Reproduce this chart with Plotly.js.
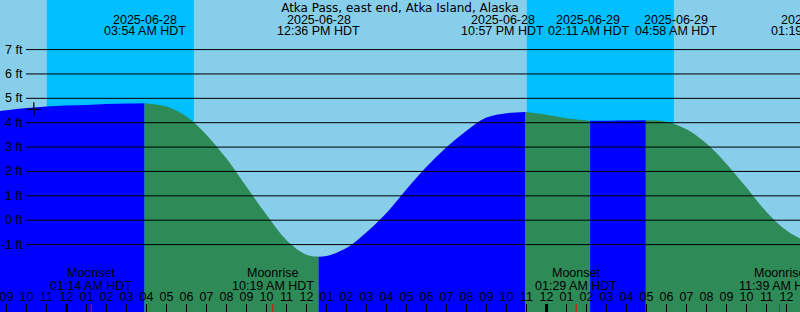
<!DOCTYPE html>
<html><head><meta charset="utf-8">
<script src="https://cdn.plot.ly/plotly-3.0.1.min.js"></script>
<style>html,body{margin:0;padding:0;background:#87ceeb;overflow:hidden}#chart{width:800px;height:312px}</style>
</head><body><div id="chart"></div>
<script>
// ---------- data ----------
const stationName = 'Atka Pass, east end, Atka Island, Alaska';

// hourly tide heights (ft)
const tideTimes = [
  '2025-06-27 20:00','2025-06-27 21:00','2025-06-27 22:00','2025-06-27 23:00',
  '2025-06-28 00:00','2025-06-28 01:00','2025-06-28 02:00','2025-06-28 03:00','2025-06-28 04:00','2025-06-28 05:00',
  '2025-06-28 06:00','2025-06-28 07:00','2025-06-28 08:00','2025-06-28 09:00','2025-06-28 10:00','2025-06-28 11:00',
  '2025-06-28 12:00','2025-06-28 13:00','2025-06-28 14:00','2025-06-28 15:00','2025-06-28 16:00','2025-06-28 17:00',
  '2025-06-28 18:00','2025-06-28 19:00','2025-06-28 20:00','2025-06-28 21:00','2025-06-28 22:00','2025-06-28 23:00',
  '2025-06-29 00:00','2025-06-29 01:00','2025-06-29 02:00','2025-06-29 03:00','2025-06-29 04:00','2025-06-29 05:00',
  '2025-06-29 06:00','2025-06-29 07:00','2025-06-29 08:00','2025-06-29 09:00','2025-06-29 10:00','2025-06-29 11:00',
  '2025-06-29 12:00','2025-06-29 13:00'
];
const tideFeet = [
  4.40, 4.51, 4.60, 4.66,
  4.71, 4.73, 4.77, 4.79, 4.80, 4.66,
  4.25, 3.50, 2.53, 1.37, 0.22, -0.82,
  -1.42, -1.47, -1.14, -0.49, 0.30, 1.27,
  2.19, 2.99, 3.67, 4.21, 4.39, 4.44,
  4.33, 4.18, 4.09, 4.085, 4.095, 4.10,
  4.04, 3.73, 3.15, 2.31, 1.34, 0.34,
  -0.42, -0.88
];

// high / low tide events
const extremeTimes = ['2025-06-28 03:54','2025-06-28 12:36','2025-06-28 22:57','2025-06-29 02:11','2025-06-29 04:58','2025-06-29 13:19'];
const extremeFeet  = [4.80, -1.50, 4.44, 4.08, 4.10, -0.97];
const extremeKind  = ['High','Low','High','Low','High','Low'];
const extremeDateLabels = ['2025-06-28','2025-06-28','2025-06-28','2025-06-29','2025-06-29','2025-06-29'];
const extremeTimeLabels = ['03:54 AM HDT','12:36 PM HDT','10:57 PM HDT','02:11 AM HDT','04:58 AM HDT','01:19 PM HDT'];

// moon events
const moonTimes  = ['2025-06-28 01:14','2025-06-28 10:19','2025-06-29 01:29','2025-06-29 11:39'];
const moonKinds  = ['Moonset','Moonrise','Moonset','Moonrise'];
const moonLabels = ['01:14 AM HDT','10:19 AM HDT','01:29 AM HDT','11:39 AM HDT'];

// night (sunset -> sunrise)
const nightStarts = ['2025-06-27 23:01','2025-06-28 23:01'];
const nightEnds   = ['2025-06-28 06:22','2025-06-29 06:22'];

// day boundaries
const midnights = ['2025-06-28 00:00','2025-06-29 00:00'];

// y axis ticks
const yTickValues = [-1, 0, 1, 2, 3, 4, 5, 6, 7];
const yTickLabels = ['-1 ft','0 ft','1 ft','2 ft','3 ft','4 ft','5 ft','6 ft','7 ft'];

// marker "+"
const markTimes = ['2025-06-27 22:22'];
const markFeet  = [4.55];

// ---------- layout parameters ----------
const xRange = ['2025-06-27 20:40:30', '2025-06-29 12:40:30'];
const yRange = [-3.766, 9.034];
const W = 800, H = 312;
const labelNudge = [0, 0, -23, -2, 30, 0];   // px shift of event labels (avoid overlap)
const FONT = {family: 'Liberation Sans, Arial, sans-serif', size: 12.5, color: '#000000'};
const TITLE_FONT = {family: 'DejaVu Sans, sans-serif', size: 12, color: '#000000'};
const RISE = '#0000ff', FALL = '#2e8b57';
const DAY = '#87ceeb', NIGHT = '#00bfff';

const toMs = s => Date.parse(s.replace(' ', 'T') + (s.length === 16 ? ':00Z' : 'Z'));
const r0 = toMs(xRange[0]), r1 = toMs(xRange[1]);
const paperX = s => (toMs(s) - r0) / (r1 - r0);

// ---------- tide segments (rising blue / falling green) ----------
const pts = tideTimes.map((t, i) => ({t, ms: toMs(t), y: tideFeet[i]}));
const ext = extremeTimes.map((t, i) => ({t, ms: toMs(t), y: extremeFeet[i], kind: extremeKind[i]}));
const floorFt = yRange[0] - 2;
const traces = [];
let startPt = pts[0];
const GAP = 10 * 60000;
ext.forEach(e => {
  const inner = pts.filter(p => p.ms > startPt.ms + GAP && p.ms < e.ms - GAP);
  const seg = [startPt].concat(inner, [e]);
  const color = e.kind === 'High' ? RISE : FALL;
  traces.push({x: [startPt.t, e.t], y: [floorFt, floorFt], mode: 'lines',
    line: {width: 0, color: color}, hoverinfo: 'skip', showlegend: false});
  traces.push({x: seg.map(p => p.t), y: seg.map(p => p.y), mode: 'lines',
    line: {width: 0, shape: 'spline', smoothing: 1, color: color}, fill: 'tonexty', fillcolor: color,
    hoverinfo: 'skip', showlegend: false});
  startPt = e;
});
traces.push({x: markTimes, y: markFeet, mode: 'markers', hoverinfo: 'skip', showlegend: false,
  marker: {symbol: 'cross-thin', size: 10, color: '#000', line: {width: 1.2, color: '#000'}}});

// ---------- shapes ----------
const shapes = [];
nightStarts.forEach((s, i) => shapes.push({type: 'rect', layer: 'below', xref: 'x', yref: 'paper',
  x0: s, x1: nightEnds[i], y0: 0, y1: 1, fillcolor: NIGHT, line: {width: 0}}));
yTickValues.forEach(v => shapes.push({type: 'line', xref: 'paper', yref: 'y',
  x0: 26 / W, x1: 1, y0: v, y1: v, line: {color: '#000', width: 1}}));
midnights.forEach(m => shapes.push({type: 'line', xref: 'x', yref: 'paper',
  x0: m, x1: m, y0: 0, y1: 8 / H, line: {color: '#000', width: 3}}));
moonTimes.forEach(m => shapes.push({type: 'line', xref: 'x', yref: 'paper',
  x0: m, x1: m, y0: 0, y1: 8 / H, line: {color: '#ff0000', width: 1}}));

// ---------- annotations ----------
const ann = [];
yTickValues.forEach((v, i) => ann.push({xref: 'paper', yref: 'y', x: 25 / W, y: v,
  xanchor: 'right', yanchor: 'middle', text: yTickLabels[i], showarrow: false, font: FONT}));
extremeTimes.forEach((t, i) => {
  ann.push({xref: 'paper', yref: 'paper', x: paperX(t), y: 1 - 19.7 / H, xshift: labelNudge[i],
    xanchor: 'center', yanchor: 'middle', text: extremeDateLabels[i], showarrow: false, font: FONT});
  ann.push({xref: 'paper', yref: 'paper', x: paperX(t), y: 1 - 31.5 / H, xshift: labelNudge[i],
    xanchor: 'center', yanchor: 'middle', text: extremeTimeLabels[i], showarrow: false, font: FONT});
});
moonTimes.forEach((t, i) => {
  ann.push({xref: 'paper', yref: 'paper', x: paperX(t), y: 1 - 272.8 / H,
    xanchor: 'center', yanchor: 'middle', text: moonKinds[i], showarrow: false, font: FONT});
  ann.push({xref: 'paper', yref: 'paper', x: paperX(t), y: 1 - 285.5 / H,
    xanchor: 'center', yanchor: 'middle', text: moonLabels[i], showarrow: false, font: FONT});
});

const layout = {
  width: W, height: H,
  margin: {l: 0, r: 0, t: 0, b: 0, pad: 0},
  paper_bgcolor: DAY, plot_bgcolor: DAY,
  font: FONT,
  showlegend: false,
  title: {text: stationName, x: 0.5, xanchor: 'center', xref: 'paper', y: 1 - 7.5 / H, yanchor: 'middle',
    yref: 'container', font: TITLE_FONT, pad: {t: 0, b: 0, l: 0, r: 0}},
  xaxis: {type: 'date', range: xRange, tick0: '2025-06-28 00:00', dtick: 3600000, tickformat: '%I',
    ticks: 'inside', ticklen: 8, tickwidth: 1, tickcolor: '#000', ticklabelposition: 'inside',
    ticklabeloverflow: 'allow', tickfont: FONT, showgrid: false, zeroline: false, showline: false, fixedrange: true},
  yaxis: {range: yRange, visible: false, showgrid: false, zeroline: false, fixedrange: true},
  shapes: shapes,
  annotations: ann
};

Plotly.newPlot('chart', traces, layout, {staticPlot: true, displayModeBar: false});
</script>
</body></html>
